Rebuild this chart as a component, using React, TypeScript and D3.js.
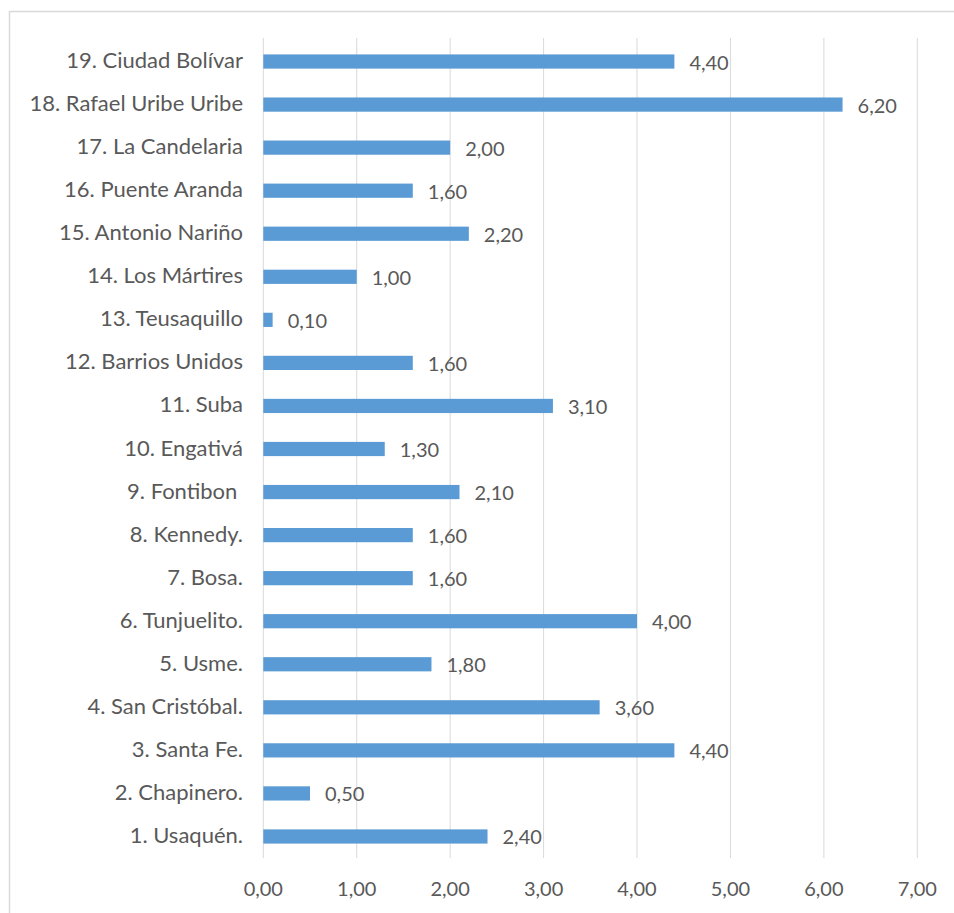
import React from "react";
import * as d3 from "d3";

const categories = [
  "1. Usaquén.",
  "2. Chapinero.",
  "3. Santa Fe.",
  "4. San Cristóbal.",
  "5. Usme.",
  "6. Tunjuelito.",
  "7. Bosa.",
  "8. Kennedy.",
  "9. Fontibon ",
  "10. Engativá",
  "11. Suba",
  "12. Barrios Unidos",
  "13. Teusaquillo",
  "14. Los Mártires",
  "15. Antonio Nariño",
  "16. Puente Aranda",
  "17. La Candelaria",
  "18. Rafael Uribe Uribe",
  "19. Ciudad Bolívar",
];
const values = [2.4, 0.5, 4.4, 3.6, 1.8, 4.0, 1.6, 1.6, 2.1, 1.3, 3.1, 1.6, 0.1, 1.0, 2.2, 1.6, 2.0, 6.2, 4.4];
const xTicks = [0, 1, 2, 3, 4, 5, 6, 7];

const W = 954;
const H = 913;
const FONT = "Lato, 'Noto Sans', sans-serif";
const TEXT = "#595959";

export default function App() {
  const x = d3.scaleLinear().domain([0, 7]).range([263.3, 917.3]);
  const order = categories.map((_, i) => i).reverse();
  const y = d3
    .scaleBand<number>()
    .domain(order)
    .range([40, 858])
    .paddingInner(0.67)
    .paddingOuter(0.335);
  const fmt = (v: number) => v.toFixed(2).replace(".", ",");
  const bw = y.bandwidth();

  return (
    <svg
      width={W}
      height={H}
      style={{ position: "absolute", left: 0, top: 0, background: "#fff" }}
      fontFamily={FONT}
    >
      <rect x={9.5} y={11.5} width={W + 10} height={H + 10} fill="#fff" stroke="#D9D9D9" strokeWidth={1.5} />
      {xTicks.map((t) => (
        <line key={"g" + t} x1={x(t)} x2={x(t)} y1={38} y2={858} stroke="#D9D9D9" strokeWidth={1} />
      ))}
      {xTicks.map((t) => (
        <text key={"t" + t} x={x(t)} y={888} textAnchor="middle" dominantBaseline="central" fontSize={20} fill={TEXT}>
          {fmt(t)}
        </text>
      ))}
      {order.map((i) => {
        const yc = (y(i) as number) + bw / 2;
        return (
          <g key={i}>
            <rect x={x(0)} y={y(i)} width={x(values[i]) - x(0)} height={bw} fill="#5B9BD5" />
            <text
              x={243}
              y={yc - 2}
              textAnchor="end"
              dominantBaseline="central"
              fontSize={22}
              fill={TEXT}
              style={{ whiteSpace: "pre" }}
            >
              {categories[i]}
            </text>
            <text x={x(values[i]) + 15} y={yc} dominantBaseline="central" fontSize={20} fill={TEXT}>
              {fmt(values[i])}
            </text>
          </g>
        );
      })}
    </svg>
  );
}
